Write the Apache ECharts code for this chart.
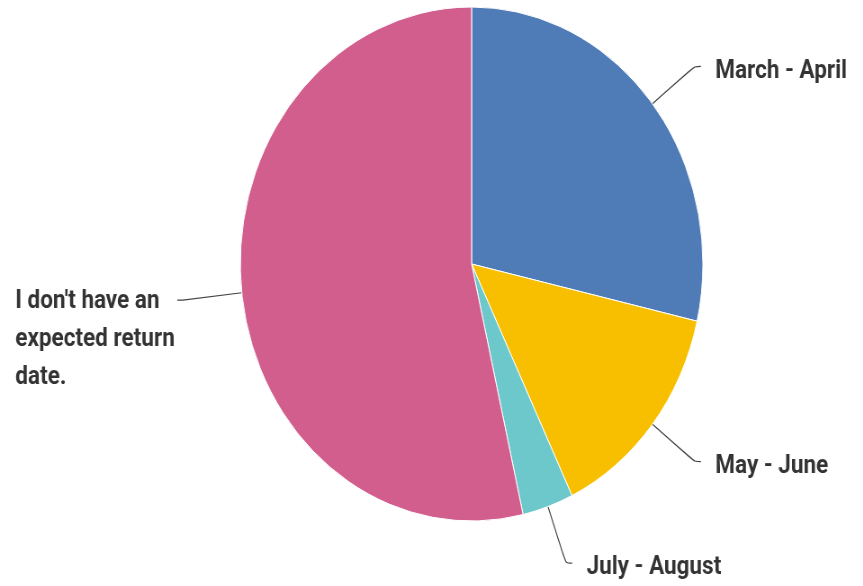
<!DOCTYPE html>
<html>
<head>
<meta charset="utf-8">
<script src="https://cdn.jsdelivr.net/npm/echarts@6/dist/echarts.min.js"></script>
<style>
html,body{margin:0;padding:0;background:#fff;overflow:hidden;}
#c{width:959px;height:586px;transform:scaleX(0.9);transform-origin:0 0;}
</style>
</head>
<body>
<div id="c"></div>
<script>
const categories = ['March - April', 'May - June', 'July - August', "I don't have an expected return date."];
const values = [8, 4, 1, 15];
const labelTexts = ['March - April', 'May - June', 'July - August', "I don't have an\nexpected return\ndate."];
const colors = ['#4f7cb6', '#f8be00', '#6cc8cb', '#d25e8e'];

const FONT = 'Roboto';
const FS = 25;
const chart = echarts.init(document.getElementById('c'));
const textStyle = { fontSize: FS, fontWeight: 'bold', fontFamily: FONT, color: '#333' };

const data = categories.map((name, i) => {
  const item = { name: name, value: values[i], itemStyle: { color: colors[i] } };
  if (i === 3) {
    item.label = {
      distanceToLabelLine: -10,
      padding: [80, 0, 0, 0],
      formatter: () => labelTexts[i].split('\n').map(l => '{w|' + l + '}').join('\n'),
      rich: {
        w: Object.assign({ width: 190, align: 'left', lineHeight: 38 }, textStyle)
      }
    };
    item.labelLine = { length: 66, length2: 6 };
  }
  return item;
});

chart.setOption({
  animation: false,
  series: [{
    type: 'pie',
    center: [524, 264],
    radius: 257,
    startAngle: 90,
    clockwise: true,
    avoidLabelOverlap: false,
    data: data,
    itemStyle: { borderColor: '#ffffff', borderWidth: 1 },
    label: Object.assign({
      show: true,
      position: 'outside',
      alignTo: 'none',
      overflow: 'none',
      distanceToLabelLine: 16,
      padding: [10, 0, 0, 0],
      formatter: (p) => '{r|' + labelTexts[p.dataIndex] + '}',
      rich: { r: Object.assign({ lineHeight: 30 }, textStyle) }
    }, textStyle),
    labelLine: {
      show: true,
      length: 60,
      length2: 7,
      smooth: 0.3,
      lineStyle: { color: '#444', width: 1.2 }
    },
    emphasis: { disabled: true }
  }]
});
</script>
</body>
</html>
